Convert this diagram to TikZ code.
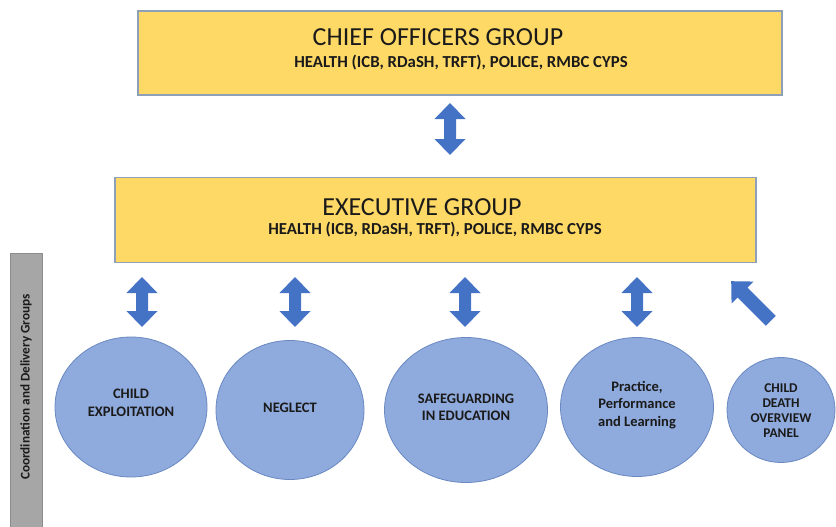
\documentclass[tikz,border=0pt]{standalone}
\usepackage{fontspec}
\setmainfont{Carlito}
\usetikzlibrary{shapes.geometric}

\definecolor{boxfill}{HTML}{FFD966}
\definecolor{boxline}{HTML}{8EA0B8}
\definecolor{circfill}{HTML}{8FAADC}
\definecolor{circline}{HTML}{6A89C2}
\definecolor{arrowblue}{HTML}{4472C4}
\definecolor{barfill}{HTML}{A6A6A6}
\definecolor{barline}{HTML}{8C8C8C}
\definecolor{ink}{HTML}{1A1A1A}

\begin{document}
\begin{tikzpicture}[x=1pt,y=-1pt,
  groupbox/.style={draw=boxline, line width=1.2pt, fill=boxfill, rectangle, inner sep=0pt},
  grouptitle/.style={font=\fontsize{26}{30}\selectfont, text=ink, inner sep=0pt},
  members/.style={font=\bfseries\fontsize{16.8}{19}\selectfont, text=ink, inner sep=0pt},
  topic/.style={ellipse, draw=circline, line width=0.8pt, fill=circfill, inner sep=0pt},
  topictext/.style={align=center, text=ink, inner sep=0pt,
    font=\bfseries\fontsize{14.5}{17.5}\selectfont},
  % vertical block arrow with heads at both ends; the value is half its length
  pics/updown/.style={code={
    \fill[arrowblue] (0,-#1) -- (15.5,{-#1+16}) -- (6,{-#1+16}) -- (6,{#1-16})
      -- (15.5,{#1-16}) -- (0,#1) -- (-15.5,{#1-16}) -- (-6,{#1-16})
      -- (-6,{-#1+16}) -- (-15.5,{-#1+16}) -- cycle;}},
  % block arrow pointing along +x, turned into place with rotate
  pics/oneway/.style={code={
    \fill[arrowblue] (28,0) -- (12,15.5) -- (12,7) -- (-28,7) -- (-28,-7)
      -- (12,-7) -- (12,-15.5) -- cycle;}}
]
\useasboundingbox (0,0) rectangle (836,527);

% top-level groups
\node[groupbox, minimum width=644pt, minimum height=84pt] (chief) at (460,53) {};
\node[grouptitle] (chiefT) at (438,37) {CHIEF OFFICERS GROUP};
\node[members] (chiefM) at (461,63) {HEALTH (ICB, RDaSH, TRFT), POLICE, RMBC CYPS};

\node[groupbox, minimum width=641pt, minimum height=85pt] (exec) at (435.5,220) {};
\node[grouptitle] (execT) at (422,207) {EXECUTIVE GROUP};
\node[members] (execM) at (435,230) {HEALTH (ICB, RDaSH, TRFT), POLICE, RMBC CYPS};

\pic (link0) at (450,129) {updown=26};

% side banner
\fill[barfill, draw=barline, line width=0.8pt] (10,253) rectangle (42,529);
\node[rotate=90, font=\bfseries\fontsize{13.2}{15}\selectfont, text=ink, inner sep=0pt]
  (banner) at (26,387) {Coordination and Delivery Groups};

% delivery groups
\node[topic, minimum width=152pt, minimum height=140pt] (cse) at (131,407) {};
\node[topictext] (cseT) at (131,403) {CHILD\\EXPLOITATION};
\node[topic, minimum width=148pt, minimum height=139pt] (neg) at (290,410) {};
\node[topictext] (negT) at (290,407.5) {NEGLECT};
\node[topic, minimum width=163pt, minimum height=145pt] (sie) at (466,410) {};
\node[topictext] (sieT) at (466,407.5) {SAFEGUARDING\\IN EDUCATION};
\node[topic, minimum width=153pt, minimum height=139pt] (ppl) at (637,407) {};
\node[topictext] (pplT) at (637,405) {Practice,\\Performance\\and Learning};
\node[topic, minimum width=108pt, minimum height=105pt] (cdop) at (781,410) {};
\node[topictext, font=\bfseries\fontsize{13.4}{15}\selectfont] (cdopT) at (781,410.5)
  {CHILD\\DEATH\\OVERVIEW\\PANEL};

% links to the executive group
\pic (link1) at (142,302) {updown=25};
\pic (link2) at (295,302) {updown=25};
\pic (link3) at (465,302) {updown=25};
\pic (link4) at (637,302) {updown=25};
\pic[rotate=135] (link5) at (751,301) {oneway};
\end{tikzpicture}
\end{document}
